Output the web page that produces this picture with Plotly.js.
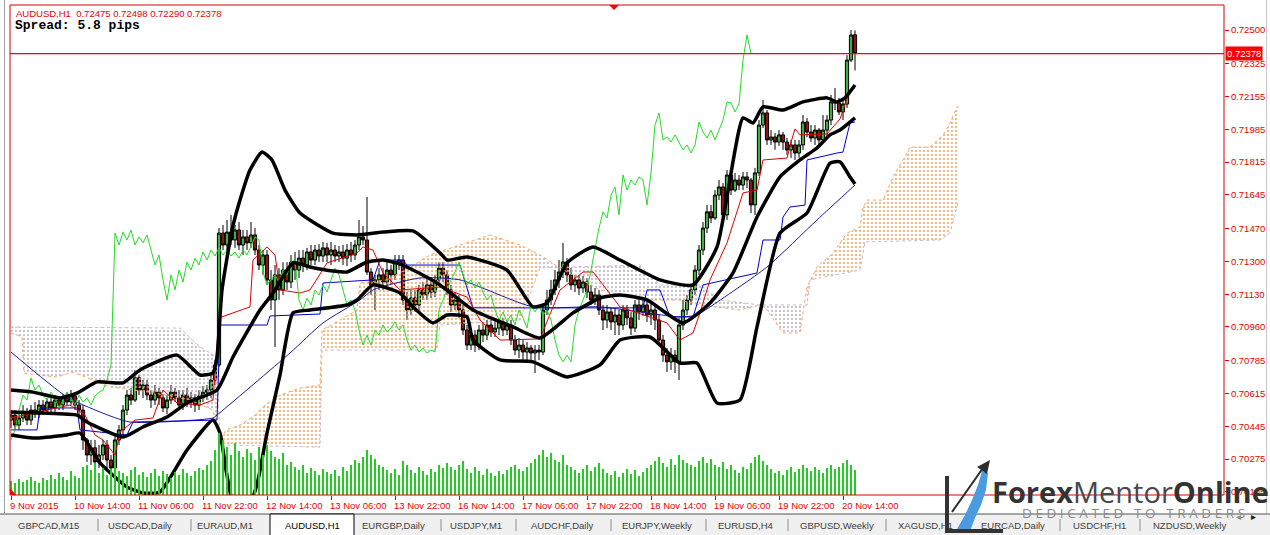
<!DOCTYPE html>
<html><head><meta charset="utf-8">
<script src="https://cdn.plot.ly/plotly-3.0.1.min.js"></script>
<style>html,body{margin:0;padding:0;background:#fff;overflow:hidden}#chart{width:1270px;height:535px}</style>
</head><body><div id="chart"></div>
<script>
// ---------------- DATA ----------------
const symbol = 'AUDUSD,H1';
const spreadText = 'Spread: 5.8 pips';
const bidPrice = 0.72378;

const open = [
.70477,.70503,.70451,.70488,.70519,.70477,.70529,.70508,.70555,.70529,
.70571,.70540,.70581,.70555,.70592,.70571,.70602,.70555,.70529,.70374,
.70296,.70333,.70260,.70296,.70348,.70270,.70229,.70374,.70426,.70529,
.70607,.70581,.70696,.70633,.70659,.70607,.70581,.70622,.70592,.70540,
.70581,.70622,.70592,.70555,.70607,.70571,.70592,.70555,.70602,.70622,
.70633,.70685,.70763,.71447,.71385,.71452,.71411,.71463,.71385,.71427,
.71396,.71437,.71359,.71281,.71333,.71204,.71100,.71230,.71152,.71255,
.71193,.71296,.71255,.71317,.71281,.71349,.71307,.71359,.71328,.71370,
.71333,.71359,.71328,.71349,.71317,.71359,.71333,.71385,.71427,.71411,
.71245,.71178,.71204,.71230,.71193,.71255,.71230,.71296,.71307,.71100,
.71048,.71110,.71074,.71152,.71126,.71178,.71141,.71204,.71265,.71230,
.71152,.71074,.71100,.71048,.70944,.70866,.70918,.70866,.70944,.70918,
.70970,.70934,.70954,.70986,.70944,.70970,.70892,.70840,.70866,.70830,
.70851,.70825,.70840,.70830,.71048,.71100,.71152,.71204,.71245,.71297,
.71230,.71178,.71204,.71162,.71193,.71141,.71100,.71126,.71048,.70996,
.71038,.70986,.71022,.70970,.71048,.71007,.70954,.71074,.71038,.71074,
.71022,.71048,.70996,.70892,.70814,.70779,.70814,.70779,.70970,.71048,
.71100,.71152,.71255,.71359,.71473,.71557,.71525,.71644,.71686,.71541,
.71748,.71670,.71722,.71696,.71738,.71722,.71593,.71759,.72007,.72070,
.71930,.71945,.71919,.71956,.71919,.71878,.71904,.71862,.71904,.72023,
.71971,.71940,.71981,.71930,.71981,.72033,.72127,.72122,.72075,.72116,
.72344,.72475];
const high = [
.70529,.70529,.70519,.70555,.70540,.70555,.70571,.70581,.70581,.70592,
.70592,.70607,.70602,.70612,.70622,.70633,.70622,.70581,.70555,.70384,
.70374,.70374,.70348,.70374,.70374,.70296,.70400,.70451,.70555,.70633,
.70644,.70737,.70711,.70685,.70685,.70633,.70659,.70644,.70612,.70607,
.70659,.70644,.70633,.70633,.70644,.70622,.70612,.70633,.70654,.70659,
.70711,.70789,.71473,.71489,.71515,.71541,.71489,.71504,.71463,.71463,
.71504,.71473,.71385,.71359,.71359,.71255,.71281,.71265,.71296,.71296,
.71333,.71349,.71359,.71359,.71370,.71385,.71385,.71390,.71401,.71396,
.71401,.71385,.71380,.71385,.71390,.71401,.71411,.71515,.71483,.71634,
.71265,.71230,.71265,.71265,.71296,.71281,.71333,.71333,.71333,.71141,
.71152,.71152,.71178,.71193,.71214,.71204,.71230,.71296,.71296,.71255,
.71178,.71141,.71126,.71074,.70970,.70954,.70944,.70970,.70986,.70996,
.70996,.70996,.71007,.71007,.70996,.70996,.70918,.70902,.70892,.70882,
.70866,.70866,.70866,.71074,.71152,.71204,.71255,.71307,.71396,.71317,
.71265,.71230,.71230,.71224,.71214,.71178,.71162,.71152,.71074,.71074,
.71058,.71058,.71048,.71074,.71074,.71038,.71100,.71110,.71100,.71110,
.71089,.71074,.71022,.70918,.70851,.70851,.70840,.71007,.71100,.71126,
.71178,.71281,.71385,.71504,.71593,.71593,.71670,.71722,.71706,.71774,
.71764,.71759,.71748,.71764,.71764,.71732,.71785,.72033,.72137,.72085,
.71981,.71966,.71981,.71971,.71940,.71930,.71930,.71930,.72059,.72044,
.72007,.72007,.71992,.72059,.72059,.72163,.72199,.72148,.72137,.72370,
.72500,.72498];
const low = [
.70436,.70426,.70426,.70467,.70451,.70451,.70488,.70488,.70503,.70514,
.70519,.70519,.70529,.70529,.70550,.70555,.70529,.70488,.70322,.70260,
.70244,.70218,.70229,.70270,.70218,.70192,.70208,.70348,.70400,.70503,
.70555,.70571,.70607,.70592,.70581,.70540,.70555,.70555,.70519,.70508,
.70560,.70571,.70529,.70529,.70545,.70540,.70519,.70529,.70571,.70581,
.70592,.70659,.70753,.71359,.71359,.71385,.71370,.71359,.71333,.71359,
.71370,.71333,.71255,.71230,.71178,.71048,.70856,.71100,.71126,.71152,
.71162,.71204,.71214,.71245,.71255,.71281,.71281,.71297,.71297,.71297,
.71281,.71297,.71297,.71281,.71276,.71297,.71307,.71359,.71385,.71230,
.71126,.71048,.71152,.71152,.71167,.71178,.71204,.71255,.71074,.70996,
.71022,.71038,.71048,.71100,.71100,.71110,.71115,.71178,.71193,.71126,
.71038,.71048,.71007,.70918,.70840,.70840,.70830,.70840,.70882,.70892,
.70908,.70908,.70918,.70913,.70918,.70866,.70814,.70799,.70789,.70779,
.70789,.70721,.70789,.70814,.71022,.71074,.71126,.71162,.71214,.71193,
.71152,.71141,.71126,.71136,.71110,.71074,.71074,.71022,.70944,.70954,
.70944,.70918,.70918,.70944,.70970,.70918,.70934,.70996,.71017,.70986,
.70970,.70944,.70866,.70779,.70727,.70737,.70721,.70685,.70944,.71022,
.71074,.71126,.71230,.71333,.71447,.71499,.71515,.71618,.71525,.71515,
.71644,.71660,.71670,.71670,.71680,.71551,.71541,.71743,.71992,.71904,
.71904,.71879,.71899,.71878,.71852,.71837,.71826,.71837,.71878,.71945,
.71920,.71904,.71904,.71914,.71940,.72007,.72085,.72059,.72033,.72096,
.72334,.72290];
const close = [
.70503,.70451,.70488,.70519,.70477,.70529,.70508,.70555,.70529,.70571,
.70540,.70581,.70555,.70592,.70571,.70602,.70555,.70529,.70374,.70296,
.70333,.70260,.70296,.70348,.70270,.70229,.70374,.70426,.70529,.70607,
.70581,.70696,.70633,.70659,.70607,.70581,.70622,.70592,.70540,.70581,
.70622,.70592,.70555,.70607,.70571,.70592,.70555,.70602,.70622,.70633,
.70685,.70763,.71447,.71385,.71452,.71411,.71463,.71385,.71427,.71396,
.71437,.71359,.71281,.71333,.71204,.71100,.71230,.71152,.71255,.71193,
.71296,.71255,.71317,.71281,.71349,.71307,.71359,.71328,.71370,.71333,
.71359,.71328,.71349,.71317,.71359,.71333,.71385,.71427,.71411,.71245,
.71178,.71204,.71230,.71193,.71255,.71230,.71296,.71307,.71100,.71048,
.71110,.71074,.71152,.71126,.71178,.71141,.71204,.71265,.71230,.71152,
.71074,.71100,.71048,.70944,.70866,.70918,.70866,.70944,.70918,.70970,
.70934,.70954,.70986,.70944,.70970,.70892,.70840,.70866,.70830,.70851,
.70825,.70840,.70830,.71048,.71100,.71152,.71204,.71245,.71297,.71230,
.71178,.71204,.71162,.71193,.71141,.71100,.71126,.71048,.70996,.71038,
.70986,.71022,.70970,.71048,.71007,.70954,.71074,.71038,.71074,.71022,
.71048,.70996,.70892,.70814,.70779,.70814,.70779,.70970,.71048,.71100,
.71152,.71255,.71359,.71473,.71557,.71525,.71644,.71686,.71541,.71748,
.71670,.71722,.71696,.71738,.71722,.71593,.71759,.72007,.72070,.71930,
.71945,.71919,.71956,.71919,.71878,.71904,.71862,.71904,.72023,.71971,
.71940,.71981,.71930,.71981,.72033,.72127,.72122,.72075,.72116,.72344,
.72474,.72378];
// tick volume (relative at the bottom)
const volume = [
14,12,16,13,15,18,14,12,17,15, 20,16,22,18,15,24,19,17,28,30,
25,32,22,27,20,26,30,24,22,19, 25,28,20,23,18,22,26,19,24,21,
17,23,20,26,22,19,24,27,25,30, 34,45,62,55,48,40,52,44,38,46,
42,35,48,40,50,44,38,36,42,30, 33,28,25,30,22,27,24,20,26,23,
21,25,19,28,24,30,35,32,38,45, 40,36,30,28,25,22,26,20,34,30,
25,22,28,24,20,26,23,30,27,32, 28,25,30,34,26,22,28,24,20,26,
22,19,24,21,25,28,30,26,24,28, 32,36,40,45,38,42,35,33,40,30,
28,25,22,26,30,24,28,32,26,22, 20,24,18,22,26,21,25,19,23,27,
30,34,38,32,28,36,30,40,35,32, 30,28,34,38,32,36,30,28,33,26,
30,25,22,28,26,32,38,40,34,30, 26,22,24,20,25,28,23,26,30,27,
24,28,25,22,27,30,26,28,32,35, 30,25];

// Bollinger Bands (read at bar positions)
const bbUpperX = [0,5.5,12.25,16.5,21.5,28,32.25,41.5,47.25,50.5,51.5,52.75,55.25,57.25,59.75,62.75,65.25,68.5,72.25,80.5,86.5,93,100.5,107.25,109,114,124,130.5,134,139,145.5,152.25,162.25,170.5,176.5,183,185.5,188,193,198,204,206.5,208.5,211];
const bbUpper = [.70633,.70622,.70592,.70617,.70675,.70670,.70737,.70814,.70711,.70721,.70804,.71152,.71463,.71618,.71774,.71867,.71826,.71670,.71551,.71447,.71437,.71452,.71458,.71344,.71307,.71323,.71255,.71064,.71084,.71292,.71375,.71307,.71204,.71178,.71375,.72044,.72018,.72101,.72085,.72127,.72148,.72127,.72148,.72215];
const bbMidX = [0,8,16.5,19,28,33,39,44,51.5,55.5,62.25,65.5,70.5,74.75,80.5,84,89,93,97.25,101.5,107.25,115.5,125.5,132.25,140.5,147.25,152.25,159,168,174.75,180.5,186.5,192.25,197.25,201.5,204.75,207.25,211];
const bbMid = [.70519,.70514,.70503,.70467,.70389,.70441,.70493,.70566,.70633,.70804,.71048,.71136,.71292,.71271,.71250,.71245,.71297,.71307,.71286,.71245,.71178,.71048,.70960,.70903,.71033,.71110,.71126,.71100,.70981,.71084,.71240,.71530,.71738,.71826,.71888,.71956,.71981,.72044];
const bbLowerX = [0,5.5,14,17.25,22.25,29,33,37.25,44,50.5,52.25,53.75,55.25,57.25,59.75,61.75,64,67.25,70.5,74.75,84,86.5,90.5,97.25,100.5,105.5,109,114,115.5,122.25,130.5,139,147.25,152.25,159.75,167.25,171.5,176.5,182.25,186.5,192.25,199,204.75,207.25,209.75,211];
const bbLower = [.70400,.70384,.70400,.70410,.70255,.70130,.70099,.70104,.70322,.70477,.70410,.70218,.70063,.69985,.70037,.70166,.70410,.70711,.71033,.71048,.71074,.71100,.71178,.71136,.71064,.70981,.71022,.71012,.70892,.70789,.70779,.70701,.70763,.70892,.70908,.70773,.70773,.70566,.70581,.70960,.71447,.71551,.71810,.71816,.71738,.71701];

// Ichimoku
const tenkanX = [0,7.25,14.75,18.5,21,23,26,27.25,31,35.5,38,41.5,47.25,50.5,52,59.75,60.5,64,66,67.25,72.25,74.75,79,86.5,88,90.5,93,97.25,107.25,114,117.25,122.25,132.25,135.5,137.25,143,145.5,149,152.25,164,167.25,170.5,172.25,174.75,179,183,186.5,188,194,195.25,196,197.25,204,207.25,209.75,211];
const tenkan = [.70488,.70519,.70555,.70503,.70400,.70374,.70296,.70415,.70477,.70488,.70633,.70566,.70555,.70581,.71007,.71064,.71307,.71375,.71333,.71152,.71136,.71152,.71292,.71344,.71375,.71359,.71240,.71152,.71167,.71115,.70996,.70892,.70898,.71064,.71152,.71245,.71245,.71152,.71064,.70981,.70892,.70929,.71033,.71204,.71396,.71655,.71670,.71826,.71836,.71935,.71987,.71956,.71961,.72039,.72189,.72199];
const kijunX = [0,6.5,7.25,16.5,17.25,29,30.5,51.5,52.25,64,64.75,77.25,78,90.5,92.25,98,99,112.25,115.5,158,159,162.25,164.75,170.5,173,186.5,188,192.25,193,194.75,198.5,199,206.5,208,209.75,211];
const kijun = [.70426,.70426,.70540,.70540,.70426,.70400,.70467,.70477,.70970,.70970,.71017,.71027,.71188,.71204,.71307,.71307,.71281,.71281,.71059,.71059,.71152,.71152,.71012,.71012,.71178,.71240,.71411,.71411,.71530,.71582,.71592,.71826,.71862,.71867,.72018,.72023];
const spanAX = [0,2.75,3.25,11.5,15.5,21.5,24.75,34.75,44.75,50.5,52.25,53.75,57.25,61,63.5,67.25,72.25,77.25,77.75,82.25,86.5,87.25,94,98.5,104.75,112.25,119.75,127.25,132.25,137.25,147.25,157.25,167.25,172.25,182.25,187.25,189,193,197.25,198,199,201.5,205.5,209,212.25,213,214,218,220.5,224,224.75,229.75,233,234.75,236.5,237];
const spanA = [.70928,.70908,.70721,.70700,.70726,.70675,.70649,.70622,.70581,.70529,.70374,.70426,.70451,.70503,.70555,.70607,.70643,.70659,.70944,.70996,.71048,.71188,.71204,.71255,.71333,.71385,.71437,.71385,.71333,.71266,.71152,.71100,.71100,.71074,.71048,.71074,.71048,.70929,.70929,.71033,.71167,.71271,.71344,.71447,.71479,.71582,.71618,.71618,.71738,.71862,.71893,.71893,.71955,.72018,.72101,.72101];
const spanBX = [0,42.25,47.25,51.5,52.25,77.25,77.75,106.5,107.25,127.25,132.25,157.25,162.25,172.25,177.25,187.25,199,199.75,212.25,213.5,232.25,234.75,236.5,237];
const spanB = [.70960,.70954,.70856,.70804,.70348,.70337,.70840,.70840,.70970,.70996,.71266,.71281,.71178,.71178,.71100,.71074,.71074,.71204,.71255,.71401,.71411,.71447,.71582,.71618];
const cloudRegions = [[0,52.25,'bear'],[52.25,132.25,'bull'],[132.25,199,'bear'],[199,237,'bull']];

const maX = [0,14,22.25,29.75,50.5,51.5,69.75,78,87.25,90.5,102.25,112.25,130.5,147.25,167.25,171.5,174.75,189,201.5,211];
const ma = [.70830,.70597,.70519,.70467,.70488,.70503,.70825,.70981,.71100,.71152,.71214,.71204,.71064,.71064,.71012,.71022,.71064,.71271,.71515,.71696];

const priceTicks = [0.72500,0.72325,0.72155,0.71985,0.71815,0.71645,0.71470,0.71300,0.71130,0.70960,0.70785,0.70615,0.70445,0.70275,0.70105];
const timeLabels = ['9 Nov 2015','10 Nov 14:00','11 Nov 06:00','11 Nov 22:00','12 Nov 14:00','13 Nov 06:00','13 Nov 22:00','16 Nov 14:00','17 Nov 06:00','17 Nov 22:00','18 Nov 14:00','19 Nov 06:00','19 Nov 22:00','20 Nov 14:00'];
const tabNames = ['GBPCAD,M15','USDCAD,Daily','EURAUD,M1','AUDUSD,H1','EURGBP,Daily','USDJPY,M1','AUDCHF,Daily','EURJPY,Weekly','EURUSD,H4','GBPUSD,Weekly','XAGUSD,H1','EURCAD,Daily','USDCHF,H1','NZDUSD,Weekly'];
const activeTab = 'AUDUSD,H1';

// ---------------- LAYOUT HELPERS (pixel -> paper) ----------------
const PL = 10, PR = 1224, PT = 5, PB = 495;
const X = p => (p - PL) / (PR - PL);
const Y = p => (PB - p) / (PB - PT);
const path = pts => 'M ' + pts.map(p => X(p[0]).toFixed(5) + ' ' + Y(p[1]).toFixed(5)).join(' L ') + ' Z';
const RED = '#ff0000';
const xRange = [-0.25, 303.25];

const bars = close.map((_, i) => i);
const labelBars = timeLabels.map((_, k) => k * 16);
const tabCenters = [48,140,225,312,394,476,562,657,745,837,925,1013,1099,1189];
const tabSeps = [98,191,441,516,611,706,788,886,968,1060,1140];

// ---------------- TRACES ----------------
const traces = [];
traces.push({type:'bar', x:bars, y:volume, yaxis:'y2', width:0.34, marker:{color:'#22cc22', line:{width:0}}, hoverinfo:'skip'});

const cloudColor = {bull:'#f0a050', bear:'#b8a8c0'};
cloudRegions.forEach(([s,e,kind]) => {
  const xs = [], ys = [];
  spanAX.forEach((x,k) => { if (x >= s && x <= e) { xs.push(x); ys.push(spanA[k]); } });
  for (let k = spanBX.length - 1; k >= 0; k--) { const x = spanBX[k]; if (x >= s && x <= e) { xs.push(x); ys.push(spanB[k]); } }
  traces.push({type:'scatter', mode:'none', x:xs, y:ys, fill:'toself', fillcolor:'rgba(0,0,0,0)',
    fillpattern:{shape:'.', fgcolor:cloudColor[kind], bgcolor:'rgba(255,255,255,0)', size:4, solidity:0.18}, hoverinfo:'skip'});
});
traces.push({type:'scatter', mode:'lines', x:spanAX, y:spanA, line:{color:'#f4a460', width:1, dash:'dot'}, hoverinfo:'skip'});
traces.push({type:'scatter', mode:'lines', x:spanBX, y:spanB, line:{color:'#c9b6cc', width:1, dash:'dot'}, hoverinfo:'skip'});

traces.push({type:'candlestick', x:bars, open:open, high:high, low:low, close:close, whiskerwidth:0,
  increasing:{line:{color:'#000000', width:1}, fillcolor:'#3fb03f'},
  decreasing:{line:{color:'#000000', width:1}, fillcolor:'#8b1414'}, hoverinfo:'skip'});

traces.push({type:'scatter', mode:'lines', x:maX, y:ma, line:{color:'#1a1aa0', width:1, shape:'spline', smoothing:0.6}, hoverinfo:'skip'});
traces.push({type:'scatter', mode:'lines', x:kijunX, y:kijun, line:{color:'#0000d0', width:1}, hoverinfo:'skip'});
traces.push({type:'scatter', mode:'lines', x:tenkanX, y:tenkan, line:{color:'#e00000', width:1}, hoverinfo:'skip'});
traces.push({type:'scatter', mode:'lines', x:bars.slice(26).map(i => i - 26), y:close.slice(26), line:{color:'#22dd22', width:1}, hoverinfo:'skip'});
[[bbUpperX,bbUpper],[bbMidX,bbMid],[bbLowerX,bbLower]].forEach(([xx,yy]) => {
  traces.push({type:'scatter', mode:'lines', x:xx, y:yy, line:{color:'#000000', width:3.5, shape:'spline', smoothing:0.5}, hoverinfo:'skip'});
});
// bid price line
traces.push({type:'scatter', mode:'lines', x:xRange, y:[bidPrice,bidPrice], line:{color:RED, width:1.2}, hoverinfo:'skip'});

// ---------------- SHAPES ----------------
const shapes = [];
shapes.push({type:'line', xref:'paper', yref:'paper', x0:X(4.5), x1:X(4.5), y0:Y(0), y1:Y(513), line:{color:'#a0a0a0', width:1}});
shapes.push({type:'line', xref:'paper', yref:'paper', x0:X(1266.5), x1:X(1266.5), y0:Y(0), y1:Y(513), line:{color:'#c8c8c8', width:1}});
shapes.push({type:'rect', xref:'paper', yref:'paper', x0:0, x1:1, y0:0, y1:1, line:{color:'#dd0000', width:1}});
shapes.push({type:'path', xref:'paper', yref:'paper', path:path([[609,5],[619,5],[614,10]]), fillcolor:RED, line:{width:0}});
shapes.push({type:'path', xref:'paper', yref:'paper', path:path([[10,488],[10,495],[16,495]]), fillcolor:RED, line:{width:0}});
shapes.push({type:'rect', xref:'paper', yref:'paper', x0:X(0), x1:X(1270), y0:Y(535), y1:Y(514), fillcolor:'#f0f0f0', line:{width:0}});
shapes.push({type:'line', xref:'paper', yref:'paper', x0:X(0), x1:X(1270), y0:Y(514), y1:Y(514), line:{color:'#505050', width:1}});
const ai = tabNames.indexOf(activeTab);
shapes.push({type:'rect', xref:'paper', yref:'paper', x0:X(270), x1:X(354), y0:Y(536), y1:Y(514), fillcolor:'#ffffff', line:{color:'#000000', width:1}});
tabSeps.forEach(s => shapes.push({type:'line', xref:'paper', yref:'paper', x0:X(s), x1:X(s), y0:Y(519), y1:Y(531), line:{color:'#8a8a8a', width:1}}));
shapes.push({type:'path', xref:'paper', yref:'paper', path:path([[956,531],[965,515],[972,500],[978,485],[982,471],[988,473],[986,490],[981,505],[975,518],[970,531]]), fillcolor:'#4a9be0', line:{width:0}});
shapes.push({type:'path', xref:'paper', yref:'paper', path:path([[945,476],[949,476],[949,529],[1003,529],[1003,533],[945,533]]), fillcolor:'#333333', line:{width:0}});
shapes.push({type:'line', xref:'paper', yref:'paper', x0:X(952), y0:Y(512), x1:X(983), y1:Y(468), line:{color:'#2d2d2d', width:2}});
shapes.push({type:'path', xref:'paper', yref:'paper', path:path([[977,467],[990,460],[987,474]]), fillcolor:'#2d2d2d', line:{width:0}});

// ---------------- ANNOTATIONS ----------------
const ann = [];
const n = close.length - 1;
ann.push({xref:'paper', yref:'paper', x:X(14), y:Y(13.5), xanchor:'left', yanchor:'middle', showarrow:false,
  text: symbol + '\u00a0\u00a0' + [open[n],high[n],low[n],close[n]].map(v => v.toFixed(5)).join(' '),
  font:{family:'Liberation Sans, Arial', size:9.5, color:'#e60000'}});
ann.push({xref:'paper', yref:'paper', x:X(13), y:Y(26), xanchor:'left', yanchor:'middle', showarrow:false,
  text:'<b>' + spreadText + '</b>', font:{family:'Liberation Mono, DejaVu Sans Mono', size:13, color:'#000'}});
timeLabels.forEach((t,k) => ann.push({xref:'x', yref:'paper', x:labelBars[k], y:Y(505), xanchor:'left', yanchor:'middle', xshift:-3, showarrow:false,
  text:t, font:{family:'Liberation Sans, Arial', size:9.5, color:'#e60000'}}));
ann.push({xref:'paper', yref:'y', x:X(1225), y:bidPrice, xanchor:'left', yanchor:'middle', showarrow:false,
  text:bidPrice.toFixed(5), bgcolor:RED, borderpad:1, font:{family:'Liberation Sans, Arial', size:9.5, color:'#fff'}});
tabNames.forEach((t,k) => ann.push({xref:'paper', yref:'paper', x:X(tabCenters[k]), y:Y(525), xanchor:'center', yanchor:'middle', showarrow:false,
  text:t, font:{family:'Liberation Sans, Arial', size:9.5, color: k === ai ? '#000' : '#3c3c3c'}}));
ann.push({xref:'paper', yref:'paper', x:X(1243), y:Y(525), showarrow:false, text:'\u25C2', font:{size:10, color:'#888'}});
ann.push({xref:'paper', yref:'paper', x:X(1258), y:Y(525), showarrow:false, text:'\u25B8', font:{size:10, color:'#222'}});
ann.push({xref:'paper', yref:'paper', x:X(990), y:Y(491), xanchor:'left', yanchor:'middle', showarrow:false,
  text:'<b>Forex</b><span style="color:#484848">Mentor</span><b>Online</b>', font:{family:'Open Sans, Liberation Sans', size:29, color:'#333'}});
ann.push({xref:'paper', yref:'paper', x:X(1020), y:Y(513), xanchor:'left', yanchor:'middle', showarrow:false,
  text:'DEDICATED TO TRADERS'.split('').join('\u2009\u200a'), font:{family:'Open Sans, Liberation Sans', size:13.5, color:'#8a8a8a'}});

const layout = {
  width:1270, height:535, margin:{l:PL, r:1270-PR, t:PT, b:535-PB, pad:0},
  paper_bgcolor:'#ffffff', plot_bgcolor:'#ffffff', showlegend:false, bargap:0, boxgap:0.2, boxgroupgap:0,
  xaxis:{range:xRange, showgrid:false, zeroline:false, showline:false, tickvals:labelBars, ticks:'outside', ticklen:4,
    tickcolor:'#e60000', showticklabels:false, rangeslider:{visible:false}, fixedrange:true},
  yaxis:{range:[0.700885,0.726297], side:'right', showgrid:false, zeroline:false, showline:false, tickvals:priceTicks,
    ticktext:priceTicks.map(v => v.toFixed(5)), ticks:'outside', ticklen:4, tickcolor:'#e60000',
    tickfont:{family:'Liberation Sans, Arial', size:9.5, color:'#e60000'}, fixedrange:true},
  yaxis2:{overlaying:'y', range:[0,490], visible:false, fixedrange:true},
  shapes:shapes, annotations:ann
};
Plotly.newPlot('chart', traces, layout, {displayModeBar:false, staticPlot:true});
</script></body></html>
